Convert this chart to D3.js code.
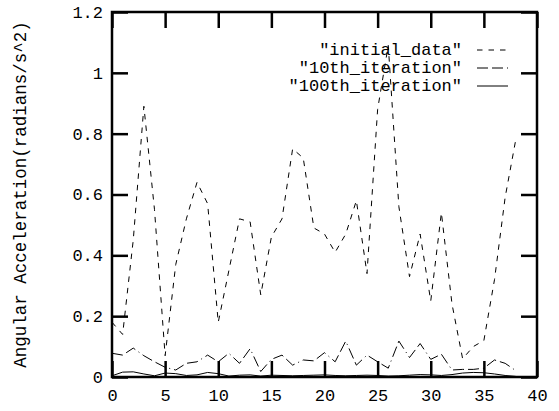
<!doctype html>
<html lang="en">
    <head>
        <meta charset="utf-8">
        <title>Angular Acceleration</title>
        <script type="text/javascript" src="https://cdn.jsdelivr.net/npm/d3@7"></script>
        <style>
            body { margin: 0; background: #fff; }
            text { font-family: "Liberation Mono", "DejaVu Sans Mono", monospace; fill: #000; }
        </style>
    </head>
    <body>
        <script type="text/javascript">

            var svgW = 559;
            var svgH = 411;
            var margin = {top: 12, right: 22, bottom: 34, left: 112};
            var w = svgW - margin.left - margin.right;
            var h = svgH - margin.top - margin.bottom;

            // x = 0..38
            var steps = d3.range(0, 39);
            var initialData = [0.18, 0.14, 0.45, 0.89, 0.55, 0.07, 0.37, 0.52, 0.64, 0.57,
                               0.18, 0.35, 0.52, 0.51, 0.27, 0.46, 0.52, 0.75, 0.72, 0.49,
                               0.47, 0.41, 0.47, 0.58, 0.34, 0.88, 1.09, 0.56, 0.33, 0.47,
                               0.25, 0.54, 0.24, 0.06, 0.10, 0.12, 0.32, 0.59, 0.78];
            var iter10 = [0.078, 0.072, 0.095, 0.070, 0.050, 0.032, 0.023, 0.045, 0.050, 0.072,
                          0.050, 0.078, 0.045, 0.093, 0.018, 0.058, 0.072, 0.039, 0.056, 0.053,
                          0.080, 0.050, 0.118, 0.039, 0.072, 0.050, 0.029, 0.118, 0.064, 0.110,
                          0.058, 0.075, 0.023, 0.025, 0.025, 0.029, 0.056, 0.045, 0.021];
            var iter100 = [0.004, 0.016, 0.017, 0.010, 0.004, 0.013, 0.011, 0.005, 0.007, 0.015,
                           0.011, 0.003, 0.006, 0.007, 0.003, 0.006, 0.005, 0.004, 0.005, 0.006,
                           0.007, 0.005, 0.004, 0.005, 0.006, 0.005, 0.003, 0.004, 0.006, 0.008,
                           0.007, 0.005, 0.008, 0.013, 0.015, 0.014, 0.010, 0.005, 0.002];

            var xTicks = d3.range(0, 41, 5);
            var yTicks = [0, 0.2, 0.4, 0.6, 0.8, 1, 1.2];
            var yTitle = "Angular Acceleration(radians/s^2)";

            var series = [
                {name: "\"initial_data\"", values: initialData, dash: "5.5,6"},
                {name: "\"10th_iteration\"", values: iter10, dash: "11,4,11,4,1,4"},
                {name: "\"100th_iteration\"", values: iter100, dash: null}
            ];

            var xScale = d3.scaleLinear().domain([0, 40]).range([0, w]);
            var yScale = d3.scaleLinear().domain([0, 1.2]).range([h, 0]);

            var svg = d3.select("body")
                        .append("svg")
                        .attr("width", svgW)
                        .attr("height", svgH)
                        .append("g")
                        .attr("transform", "translate(" + margin.left + "," + margin.top + ")");

            var line = d3.line()
                         .x((_, i) => xScale(steps[i]))
                         .y(d => yScale(d));

            svg.selectAll("path.series")
               .data(series)
               .enter()
               .append("path")
               .attr("class", "series")
               .attr("d", d => line(d.values))
               .attr("fill", "none")
               .attr("stroke", "#000")
               .attr("stroke-width", 1)
               .attr("stroke-dasharray", d => d.dash);

            // axes with inward ticks, mirrored on top/right
            var tickLen = 16;
            var fontSize = "17px";

            var xAxis = svg.append("g")
                           .attr("transform", "translate(0," + h + ")")
                           .call(d3.axisBottom(xScale).tickValues(xTicks).tickSizeInner(-tickLen).tickSizeOuter(0));
            xAxis.selectAll("text")
                 .attr("y", 24)
                 .attr("dy", 0)
                 .style("font-size", fontSize);

            svg.append("g")
               .call(d3.axisTop(xScale).tickValues(xTicks).tickSizeInner(-tickLen).tickSizeOuter(0).tickFormat(""));

            var yAxis = svg.append("g")
                           .call(d3.axisLeft(yScale).tickValues(yTicks).tickSizeInner(-tickLen).tickSizeOuter(0).tickFormat(d3.format("~g")));
            yAxis.selectAll("text")
                 .attr("x", -9)
                 .style("font-size", fontSize);

            svg.append("g")
               .attr("transform", "translate(" + w + ",0)")
               .call(d3.axisRight(yScale).tickValues(yTicks).tickSizeInner(-tickLen).tickSizeOuter(0).tickFormat(""));

            svg.selectAll(".domain").remove();
            svg.selectAll(".tick line")
               .attr("stroke", "#000")
               .attr("stroke-width", 2.5);
            svg.selectAll(".tick text").attr("fill", "#000");

            svg.append("rect")
               .attr("width", w)
               .attr("height", h)
               .attr("fill", "none")
               .attr("stroke", "#000")
               .attr("stroke-width", 2.5);

            svg.append("text")
               .attr("transform", "translate(" + (26 - margin.left) + "," + (h / 2) + ") rotate(-90)")
               .attr("text-anchor", "middle")
               .style("font-size", "17.5px")
               .text(yTitle);

            // legend
            var legend = svg.selectAll("g.legend")
                            .data(series)
                            .enter()
                            .append("g")
                            .attr("class", "legend")
                            .attr("transform", (_, i) => "translate(0," + (38 + i * 18) + ")");
            legend.append("text")
                  .attr("x", 350)
                  .attr("dy", "0.32em")
                  .attr("text-anchor", "end")
                  .style("font-size", fontSize)
                  .text(d => d.name);
            legend.append("line")
                  .attr("x1", 365)
                  .attr("x2", 396)
                  .attr("stroke", "#000")
                  .attr("stroke-width", 1)
                  .attr("stroke-dasharray", d => d.dash);

        </script>
    </body>
</html>
